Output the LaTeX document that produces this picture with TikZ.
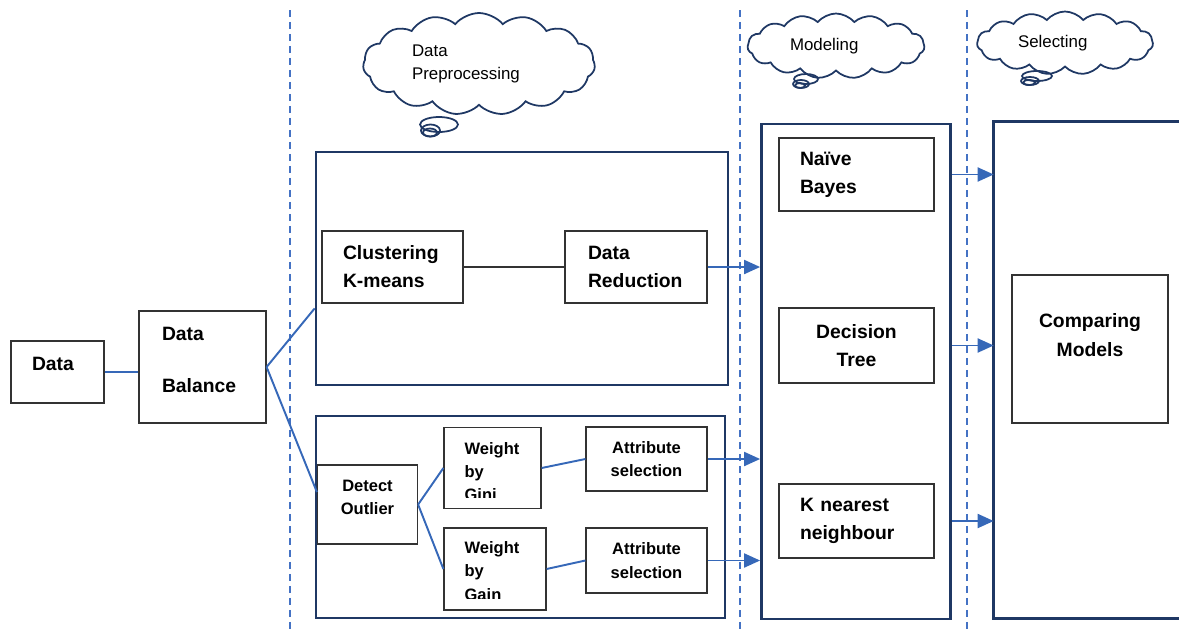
\documentclass[tikz,border=0pt]{standalone}
\usepackage{fontspec}
\setmainfont{Liberation Sans}
\usepackage{xcolor}
\usetikzlibrary{positioning, arrows.meta}
\usetikzlibrary{shapes, shapes.symbols}

\definecolor{navy}{RGB}{31,56,100}
\definecolor{lineblue}{RGB}{54,104,184}
\definecolor{dashblue}{RGB}{68,114,196}
\newcommand{\boxfont}{\fontsize{11}{16}\selectfont\bfseries}
\newcommand{\wfont}{\fontsize{9.4}{13.3}\selectfont\bfseries}
\newcommand{\cloudfont}{\fontsize{9.6}{13}\selectfont}

\begin{document}
\begin{tikzpicture}[-, x=0.02cm, y=-0.02cm,
	box/.style={draw=black!80, line width=0.7pt, rectangle, inner sep=0pt, font=\boxfont, align=left},
	wbox/.style={box, font=\wfont, align=center},
	frame/.style={draw=navy, line width=1.6pt, rectangle, inner sep=0pt},
	link/.style={draw=lineblue, line width=1.1pt},
	arr/.style={link, -{Triangle[length=0.32cm, width=0.28cm]}},
	sepline/.style={draw=dashblue, line width=1.1pt, dash pattern=on 0.14cm off 0.1cm},
	thought/.style={cloud, cloud puffs=15, cloud puff arc=100, draw=navy, line width=1pt, font=\cloudfont, align=left, inner sep=0pt},
	bubble/.style={draw=navy, line width=1pt},
	boxtext/.style={draw=none, anchor=north west, inner sep=0pt, minimum width=0pt, minimum height=0pt, font=\wfont, align=left}]
		\useasboundingbox (0,0) rectangle (1179,632);

		\draw[sepline] (290,10) -- (290,632);
		\draw[sepline] (740,10) -- (740,632);
		\draw[sepline] (967,10) -- (967,632);

		% thoughts
		\node[thought, minimum width=4.64cm, minimum height=2.04cm, aspect=2.7, text width=2.68cm] (cprep) at (479,64) {Data\\Preprocessing};
		\draw[bubble] (439,124.5) ellipse [x radius=0.38cm, y radius=0.15cm];
		\draw[bubble] (430.5,130.5) ellipse [x radius=0.19cm, y radius=0.12cm];
		\draw[bubble] (430,132.5) ellipse [x radius=0.14cm, y radius=0.08cm];
		\node[thought, minimum width=3.54cm, minimum height=1.3cm, aspect=3.2, text width=1.84cm] (cmodel) at (836,46) {Modeling};
		\draw[bubble] (806,79) ellipse [x radius=0.24cm, y radius=0.1cm];
		\draw[bubble] (801,84) ellipse [x radius=0.16cm, y radius=0.08cm];
		\draw[bubble] (800,85.5) ellipse [x radius=0.1cm, y radius=0.05cm];
		\node[thought, minimum width=3.52cm, minimum height=1.26cm, aspect=3.3, text width=1.88cm] (cselect) at (1065,43) {Selecting};
		\draw[bubble] (1037,76) ellipse [x radius=0.3cm, y radius=0.1cm];
		\draw[bubble] (1030,81) ellipse [x radius=0.18cm, y radius=0.08cm];
		\draw[bubble] (1029,82.5) ellipse [x radius=0.12cm, y radius=0.05cm];

		\node[box, minimum width=1.86cm, minimum height=1.24cm, text width=1.02cm] (data) at (57.5,372) {Data\\[-0.25cm]~};
		\node[box, minimum width=2.54cm, minimum height=2.24cm, text width=1.62cm] (balance) at (202.5,367) {Data\\[0.48cm]Balance\\[-0.26cm]~};

		% preprocessing
		\node[frame, minimum width=8.24cm, minimum height=4.66cm] (prep1) at (522,268.5) {};
		\node[frame, minimum width=8.18cm, minimum height=4.04cm] (prep2) at (520.5,517) {};
		\node[box, minimum width=2.82cm, minimum height=1.44cm, text width=1.98cm] (kmeans) at (392.5,267) {Clustering\\K-means};
		\node[box, minimum width=2.84cm, minimum height=1.44cm, text width=1.92cm] (reduce) at (636,267) {Data\\Reduction};
		\node[wbox, minimum width=2cm, minimum height=1.58cm] (outlier) at (367.5,504.5) {Detect\\Outlier\\[-0.18cm]~};
		\node[box, minimum width=1.94cm, minimum height=1.62cm, path picture={
			\clip ([yshift=0.23cm]path picture bounding box.south west) rectangle (path picture bounding box.north east);
			\node[boxtext] (ginitxt) at ([xshift=0.4cm, yshift=-0.28cm]path picture bounding box.north west) {Weight\\by\\Gini};
		}] (gini) at (492.5,468) {};
		\node[box, minimum width=2.04cm, minimum height=1.64cm, path picture={
			\clip ([yshift=0.24cm]path picture bounding box.south west) rectangle (path picture bounding box.north east);
			\node[boxtext] (gaintxt) at ([xshift=0.4cm, yshift=-0.26cm]path picture bounding box.north west) {Weight\\by\\Gain};
		}] (gain) at (495,569) {};
		\node[wbox, minimum width=2.42cm, minimum height=1.28cm] (attr1) at (646.5,459) {Attribute\\selection};
		\node[wbox, minimum width=2.42cm, minimum height=1.3cm] (attr2) at (646.5,560.5) {Attribute\\selection};

		% modeling
		\node[frame, minimum width=3.78cm, minimum height=9.9cm] (model) at (856,371.5) {};
		\node[box, minimum width=3.1cm, minimum height=1.46cm, text width=2.26cm] (nb) at (856.5,174.5) {Naïve\\Bayes};
		\node[box, minimum width=3.1cm, minimum height=1.5cm, align=center] (dt) at (856.5,345.5) {Decision\\Tree};
		\node[box, minimum width=3.1cm, minimum height=1.48cm, text width=2.26cm] (knn) at (856.5,521) {K nearest\\neighbour};

		% selecting
		\node[minimum width=3.7cm, minimum height=9.92cm, inner sep=0pt] (select) at (1086.5,370) {};
		\draw[navy, line width=1.6pt] (select.north east) -- (select.north west) -- (select.south west) -- (select.south east);
		\node[box, minimum width=3.12cm, minimum height=2.96cm, align=center] (compare) at (1090,349) {Comparing\\Models\\~};

		\draw (data.east) edge[link] (data.east -| balance.west) ;
		\draw (balance.east) edge[link] ([yshift=1.56cm]prep1.south west) ;
		\draw (balance.east) edge[link] ([yshift=0.25cm]outlier.west) ;
		\draw (kmeans.east) edge[draw=black!80, line width=0.7pt] (reduce.west) ;
		\draw (outlier.east) edge[link] (gini.west) ;
		\draw (outlier.east) edge[link] (gain.west) ;
		\draw (gini.east) edge[link] (attr1.west) ;
		\draw (gain.east) edge[link] (attr2.west) ;
		\draw (reduce.east) edge[arr] (reduce.east -| model.west) ;
		\draw (attr1.east) edge[arr] (attr1.east -| model.west) ;
		\draw (attr2.east) edge[arr] (attr2.east -| model.west) ;
		\draw (model.east |- nb.east) edge[arr] (select.west |- nb.east) ;
		\draw (model.east |- dt.east) edge[arr] (select.west |- dt.east) ;
		\draw (model.east |- knn.east) edge[arr] (select.west |- knn.east) ;
	\end{tikzpicture}
\end{document}
